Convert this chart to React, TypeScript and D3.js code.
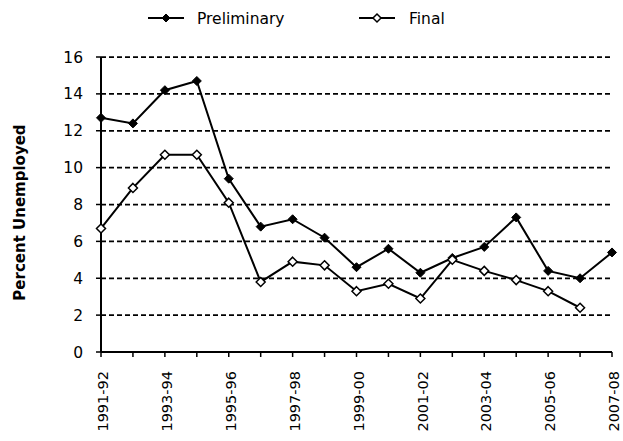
import React from 'react';
import * as d3 from 'd3';

const years = [
  '1991-92', '1992-93', '1993-94', '1994-95', '1995-96', '1996-97', '1997-98', '1998-99',
  '1999-00', '2000-01', '2001-02', '2002-03', '2003-04', '2004-05', '2005-06', '2006-07', '2007-08',
];
const preliminary = [12.7, 12.4, 14.2, 14.7, 9.4, 6.8, 7.2, 6.2, 4.6, 5.6, 4.3, 5.1, 5.7, 7.3, 4.4, 4.0, 5.4];
const finalVals = [6.7, 8.9, 10.7, 10.7, 8.1, 3.8, 4.9, 4.7, 3.3, 3.7, 2.9, 5.0, 4.4, 3.9, 3.3, 2.4];
const yTicks = [0, 2, 4, 6, 8, 10, 12, 14, 16];

const W = 623;
const H = 441;
const margin = { top: 57, right: 11, bottom: 89, left: 101 };
const FONT = '"DejaVu Sans", Verdana, sans-serif';

export default function App() {
  const x = d3.scalePoint<string>()
    .domain(years)
    .range([margin.left, W - margin.right]);
  const y = d3.scaleLinear()
    .domain([0, 16])
    .range([H - margin.bottom, margin.top]);

  const line = d3.line<number>()
    .x((_, i) => x(years[i])!)
    .y(d => y(d));

  const diamond = (cx: number, cy: number, r = 4.5) =>
    `M${cx},${cy - r}L${cx + r},${cy}L${cx},${cy + r}L${cx - r},${cy}Z`;

  const x0 = margin.left;
  const x1 = W - margin.right;
  const y0 = y(0);

  return (
    <svg width={W} height={H} style={{ position: 'absolute', left: 0, top: 0 }} fontFamily={FONT}>
      <rect width={W} height={H} fill="#fff" />

      {/* gridlines */}
      {yTicks.filter(t => t > 0).map(t => (
        <line key={t} x1={x0} x2={x1} y1={y(t)} y2={y(t)} stroke="#000" strokeWidth={1.75} strokeDasharray="5,3" />
      ))}

      {/* y axis */}
      <line x1={x0} x2={x0} y1={y(16)} y2={y0} stroke="#000" strokeWidth={2} />
      {yTicks.map(t => (
        <g key={t}>
          <line x1={x0 - 5} x2={x0} y1={y(t)} y2={y(t)} stroke="#000" strokeWidth={1.5} />
          <text x={x0 - 18} y={y(t)} dy="0.36em" textAnchor="end" fontSize={15.5} fill="#000">{t}</text>
        </g>
      ))}

      {/* x axis */}
      <line x1={x0} x2={x1} y1={y0} y2={y0} stroke="#000" strokeWidth={2} />
      {years.map((yr, i) => (
        <g key={yr}>
          <line x1={x(yr)} x2={x(yr)} y1={y0} y2={y0 + 5} stroke="#000" strokeWidth={1.5} />
          {i % 2 === 0 && (
            <text
              transform={`translate(${x(yr)! + 2},${y0 + 19}) rotate(-90)`}
              dy="0.36em"
              textAnchor="end"
              fontSize={14.5}
              fill="#000"
            >{yr}</text>
          )}
        </g>
      ))}

      {/* y title */}
      <text
        transform={`translate(20,${(y(16) + y0) / 2 + 8}) rotate(-90)`}
        textAnchor="middle"
        dy="0.35em"
        fontSize={15}
        fontWeight="bold"
        fill="#000"
      >Percent Unemployed</text>

      {/* series */}
      <path d={line(preliminary) ?? ''} fill="none" stroke="#000" strokeWidth={2} />
      <path d={line(finalVals) ?? ''} fill="none" stroke="#000" strokeWidth={2} />
      {preliminary.map((v, i) => (
        <path key={`p${i}`} d={diamond(x(years[i])!, y(v))} fill="#000" stroke="#000" strokeWidth={1} />
      ))}
      {finalVals.map((v, i) => (
        <path key={`f${i}`} d={diamond(x(years[i])!, y(v))} fill="#fff" stroke="#000" strokeWidth={1.5} />
      ))}

      {/* legend */}
      <g>
        <line x1={148} x2={184} y1={18} y2={18} stroke="#000" strokeWidth={2} />
        <path d={diamond(166, 18, 4)} fill="#000" stroke="#000" />
        <text x={197} y={18} dy="0.36em" fontSize={15.5} fill="#000">Preliminary</text>
        <line x1={359} x2={395} y1={18} y2={18} stroke="#000" strokeWidth={2} />
        <path d={diamond(377, 18, 4)} fill="#fff" stroke="#000" strokeWidth={1.5} />
        <text x={409} y={18} dy="0.36em" fontSize={15.5} fill="#000">Final</text>
      </g>
    </svg>
  );
}
